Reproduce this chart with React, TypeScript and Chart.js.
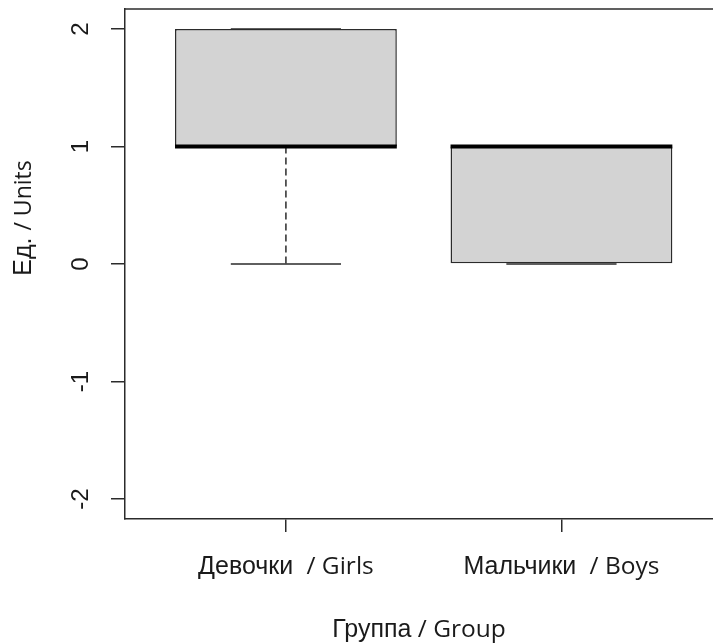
import React, { useEffect, useRef } from 'react';
import { Chart, registerables } from 'chart.js';

Chart.register(...registerables);

// ---- data ----
const groupPositions = [1, 2];
const groupNamesRu = ['Девочки', 'Мальчики'];
const groupNamesEn = ['Girls', 'Boys'];
const lowerWhisker = [0, 0];
const lowerQuartile = [1, 0];
const medianValues = [1, 1];
const upperQuartile = [2, 1];
const upperWhisker = [2, 1];
const yTickValues = [-2, -1, 0, 1, 2];
const xTitleRu = 'Группа';
const xTitleEn = 'Group';
const yTitleRu = 'Ед.';
const yTitleEn = 'Units';

// ---- style ----
const BOX_WIDTH = 0.805;
const STAPLE_WIDTH = 0.4;
const RU_FONT = '25px "Liberation Sans", Arial, sans-serif';
const EN_FONT = '24.5px "Open Sans", sans-serif';
const EN_FONT_Y = '23px "Open Sans", sans-serif';
const TEXT_COLOR = '#1a1a1a';
const LINE_COLOR = '#2b2b2b';

type Part = { text: string; font: string };

function drawParts(ctx: CanvasRenderingContext2D, parts: Part[], cx: number, y: number) {
  const widths = parts.map((p) => {
    ctx.font = p.font;
    return ctx.measureText(p.text).width;
  });
  const total = widths.reduce((a, b) => a + b, 0);
  let x = cx - total / 2;
  ctx.textAlign = 'left';
  ctx.textBaseline = 'alphabetic';
  parts.forEach((p, i) => {
    ctx.font = p.font;
    ctx.fillText(p.text, x, y);
    x += widths[i];
  });
}

const boxPlotPlugin = {
  id: 'boxPlotExtras',
  afterDatasetsDraw(chart: any) {
    const ctx: CanvasRenderingContext2D = chart.ctx;
    const xs = chart.scales.x;
    const ys = chart.scales.y;
    ctx.save();
    groupPositions.forEach((p, i) => {
      const xc = xs.getPixelForValue(p);
      const xl = xs.getPixelForValue(p - BOX_WIDTH / 2);
      const xr = xs.getPixelForValue(p + BOX_WIDTH / 2);
      const sl = xs.getPixelForValue(p - STAPLE_WIDTH / 2);
      const sr = xs.getPixelForValue(p + STAPLE_WIDTH / 2);
      const yq1 = ys.getPixelForValue(lowerQuartile[i]);
      const yq3 = ys.getPixelForValue(upperQuartile[i]);
      const ylo = ys.getPixelForValue(lowerWhisker[i]);
      const yhi = ys.getPixelForValue(upperWhisker[i]);
      const ymed = ys.getPixelForValue(medianValues[i]);

      ctx.strokeStyle = LINE_COLOR;
      ctx.lineWidth = 1.5;
      ctx.setLineDash([7, 4]);
      if (lowerWhisker[i] < lowerQuartile[i]) {
        ctx.beginPath();
        ctx.moveTo(xc, yq1);
        ctx.lineTo(xc, ylo);
        ctx.stroke();
      }
      if (upperWhisker[i] > upperQuartile[i]) {
        ctx.beginPath();
        ctx.moveTo(xc, yq3);
        ctx.lineTo(xc, yhi);
        ctx.stroke();
      }
      ctx.setLineDash([]);
      ctx.beginPath();
      ctx.moveTo(sl, ylo);
      ctx.lineTo(sr, ylo);
      ctx.moveTo(sl, yhi);
      ctx.lineTo(sr, yhi);
      ctx.stroke();

      ctx.strokeStyle = '#000';
      ctx.lineWidth = 4;
      ctx.beginPath();
      ctx.moveTo(xl, ymed);
      ctx.lineTo(xr, ymed);
      ctx.stroke();
    });
    ctx.restore();
  },
  afterDraw(chart: any) {
    const ctx: CanvasRenderingContext2D = chart.ctx;
    const xs = chart.scales.x;
    const area = chart.chartArea;
    ctx.save();
    // top frame line
    ctx.strokeStyle = LINE_COLOR;
    ctx.lineWidth = 1.5;
    ctx.beginPath();
    ctx.moveTo(area.left - 0.75, area.top);
    ctx.lineTo(area.right, area.top);
    ctx.stroke();

    ctx.fillStyle = TEXT_COLOR;
    // category labels
    groupPositions.forEach((p, i) => {
      const xc = xs.getPixelForValue(p);
      drawParts(
        ctx,
        [
          { text: groupNamesRu[i] + ' ', font: RU_FONT },
          { text: ' / ' + groupNamesEn[i], font: EN_FONT },
        ],
        xc,
        xs.top + 55
      );
    });
    // x title
    drawParts(
      ctx,
      [
        { text: xTitleRu, font: RU_FONT },
        { text: ' / ' + xTitleEn, font: EN_FONT },
      ],
      (area.left + area.right) / 2,
      xs.bottom - 6
    );
    // y title (rotated)
    ctx.translate(31, (area.top + area.bottom) / 2 - 46);
    ctx.rotate(-Math.PI / 2);
    drawParts(
      ctx,
      [
        { text: yTitleRu + ' ', font: RU_FONT },
        { text: '/ ' + yTitleEn, font: EN_FONT_Y },
      ],
      0,
      0
    );
    ctx.restore();
  },
};

export default function App() {
  const canvasRef = useRef<HTMLCanvasElement | null>(null);

  useEffect(() => {
    const canvas = canvasRef.current;
    if (!canvas) return;
    const boxData = groupPositions.map((p, i) => ({ x: p, y: [lowerQuartile[i], upperQuartile[i]] }));
    const chart = new Chart(canvas, {
      type: 'bar',
      data: {
        datasets: [
          {
            data: boxData as any,
            backgroundColor: '#d3d3d3',
            borderColor: LINE_COLOR,
            borderWidth: 1.5,
            borderSkipped: false,
            barPercentage: BOX_WIDTH,
            categoryPercentage: 1,
          },
        ],
      },
      options: {
        responsive: false,
        animation: false,
        events: [],
        layout: { padding: { top: 9, left: 0, right: 0, bottom: 0 } },
        plugins: { legend: { display: false }, tooltip: { enabled: false } },
        scales: {
          x: {
            type: 'linear',
            offset: false,
            min: 0.416,
            max: 2.55,
            afterBuildTicks: (s: any) => {
              s.ticks = groupPositions.map((v) => ({ value: v }));
            },
            afterFit: (s: any) => {
              s.height = 124;
              s.paddingLeft = 0;
              s.paddingRight = 0;
              s.paddingTop = 0;
              s.paddingBottom = 0;
            },
            ticks: { display: false },
            grid: { offset: false, drawOnChartArea: false, drawTicks: true, tickLength: 13, color: LINE_COLOR, lineWidth: 1.5 },
            border: { display: true, color: LINE_COLOR, width: 1.5 },
          },
          y: {
            type: 'linear',
            min: -2.17,
            max: 2.17,
            afterBuildTicks: (s: any) => {
              s.ticks = yTickValues.map((v) => ({ value: v }));
            },
            afterFit: (s: any) => {
              s.width = 125;
              s.paddingLeft = 0;
              s.paddingRight = 0;
              s.paddingTop = 0;
              s.paddingBottom = 0;
            },
            ticks: {
              minRotation: 90,
              maxRotation: 90,
              crossAlign: 'center',
              padding: 19,
              color: TEXT_COLOR,
              font: { family: '"Liberation Sans", Arial, sans-serif', size: 24 },
            },
            grid: { drawOnChartArea: false, drawTicks: true, tickLength: 14, color: LINE_COLOR, lineWidth: 1.5 },
            border: { display: true, color: LINE_COLOR, width: 1.5 },
          },
        },
      },
      plugins: [boxPlotPlugin],
    } as any);
    return () => chart.destroy();
  }, []);

  return (
    <div style={{ position: 'fixed', left: 0, top: 0, width: 713, height: 643, overflow: 'hidden', background: '#fff' }}>
      <canvas ref={canvasRef} width={713} height={643} style={{ display: 'block' }} />
    </div>
  );
}
